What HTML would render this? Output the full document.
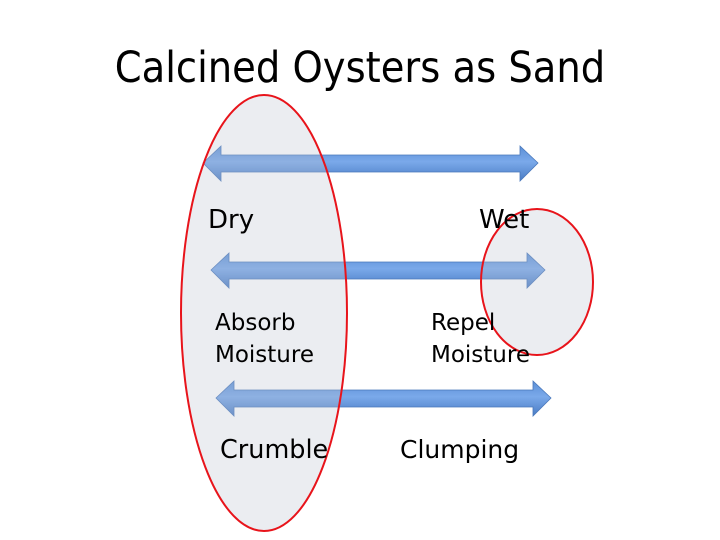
<!DOCTYPE html>
<html>
<head>
<meta charset="utf-8">
<style>
  html,body{margin:0;padding:0;background:#fff;}
  svg{display:block;}
  text{font-family:"DejaVu Sans","Liberation Sans",sans-serif;fill:#000;}
</style>
</head>
<body>
<svg width="720" height="540" viewBox="0 0 720 540">
  <defs>
    <linearGradient id="ag" x1="0" y1="0" x2="0" y2="1">
      <stop offset="0" stop-color="#5b8fd6"/>
      <stop offset="0.45" stop-color="#7aa9ea"/>
      <stop offset="1" stop-color="#4a7cc4"/>
    </linearGradient>
  </defs>
  <rect width="720" height="540" fill="#fff"/>
  <text x="360" y="82" font-size="38.5" text-anchor="middle" transform="translate(0,-10) scale(1,1.12)">Calcined Oysters as Sand</text>

  <path fill="url(#ag)" stroke="#4a78bb" stroke-width="0.8"
    d="M203,163 L221,146 L221,155 L520,155 L520,146 L538,163 L520,181 L520,172 L221,172 L221,181 Z"/>
  <path fill="url(#ag)" stroke="#4a78bb" stroke-width="0.8"
    d="M211,270 L229,253 L229,262 L527,262 L527,253 L545,270 L527,288 L527,279 L229,279 L229,288 Z"/>
  <path fill="url(#ag)" stroke="#4a78bb" stroke-width="0.8"
    d="M216,398 L234,381 L234,390 L533,390 L533,381 L551,398 L533,416 L533,407 L234,407 L234,416 Z"/>

  <ellipse cx="264" cy="313" rx="83" ry="218"
    fill="rgba(190,196,210,0.3)" stroke="#e8141b" stroke-width="2"/>
  <ellipse cx="537" cy="282" rx="56" ry="73"
    fill="rgba(190,196,210,0.3)" stroke="#e8141b" stroke-width="2"/>

  <text x="208" y="228" font-size="26">Dry</text>
  <text x="479" y="228" font-size="26">Wet</text>
  <text x="215" y="330" font-size="23">Absorb</text>
  <text x="215" y="362" font-size="23">Moisture</text>
  <text x="431" y="330" font-size="23">Repel</text>
  <text x="431" y="362" font-size="23">Moisture</text>
  <text x="220" y="458" font-size="25.5">Crumble</text>
  <text x="400" y="458" font-size="25">Clumping</text>
</svg>
</body>
</html>
